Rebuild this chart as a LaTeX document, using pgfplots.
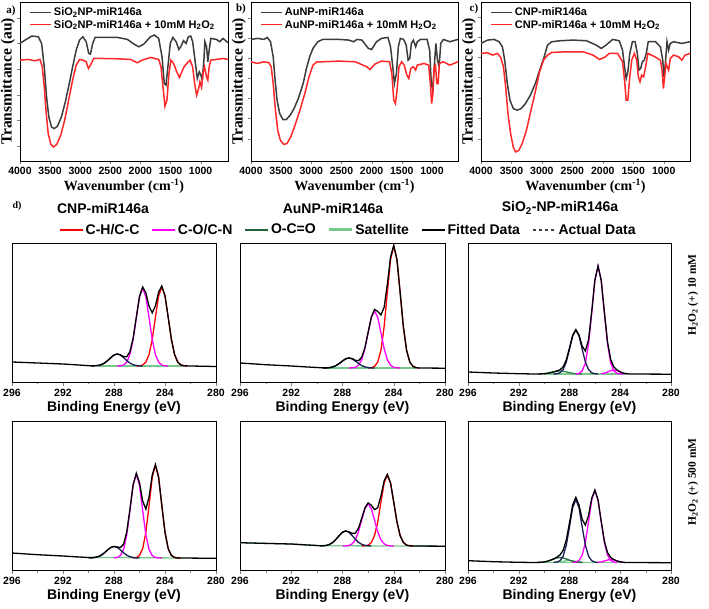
\documentclass[border=0pt]{standalone}
\usepackage{pgfplots}
\pgfplotsset{compat=1.18}
\usepackage{fontspec}
\setmainfont{Liberation Sans}
\newfontfamily\serifb{Liberation Serif}
\definecolor{ftirblack}{RGB}{60,60,60}
\definecolor{ftirred}{RGB}{255,40,40}
\definecolor{cred}{RGB}{255,0,0}
\definecolor{cmag}{RGB}{255,0,255}
\definecolor{cnavy}{RGB}{25,30,85}
\definecolor{cdkgreen}{RGB}{30,100,55}
\definecolor{cltgreen}{RGB}{120,200,140}
\pgfplotsset{
  /pgf/number format/1000 sep={},
  /pgf/number format/assume math mode=true,
  ftir/.style={scale only axis, height=159pt, x dir=reverse, y dir=reverse,
    xmax=4000, ymin=6, ymax=482,
    xtick={1000,1500,2000,2500,3000,3500,4000},
    tick align=outside, xtick pos=lower, ytick pos=lower, yticklabels={},
    ticklabel style={font=\bfseries\fontsize{10.5}{12}\selectfont},
    xlabel={Wavenumber (cm\textsuperscript{-1})}, ylabel={Transmittance (au)},
    xlabel style={font=\serifb\bfseries\fontsize{14}{16}\selectfont, yshift=3pt},
    ylabel style={font=\serifb\bfseries\fontsize{15.5}{17}\selectfont,
      at={(axis description cs:-0.008,0.5)}, anchor=south},
    axis line style={line width=0.8pt}, major tick length=3pt,
    legend style={at={(axis description cs:0.04,0.985)}, anchor=north west, draw=none, fill=none,
      font=\bfseries\fontsize{11}{12}\selectfont, inner sep=1pt, row sep=-1pt},
    legend cell align=left,
    legend image code/.code={\draw[##1,line width=1.4pt] (0pt,0pt) -- (21pt,0pt);},
    every axis plot/.append style={line width=1.5pt}},
  xps/.style={scale only axis, x dir=reverse, xmin=280, xmax=296, ymin=0,
    xtick={280,284,288,292,296}, minor xtick={282,286,290,294}, ytick=\empty,
    tick align=outside, xtick pos=lower,
    ticklabel style={font=\bfseries\fontsize{10.5}{12}\selectfont},
    xlabel={Binding Energy (eV)},
    xlabel style={font=\bfseries\fontsize{14}{16}\selectfont, yshift=2pt},
    axis line style={line width=0.8pt}, major tick length=4pt, minor tick length=2.5pt,
    every axis plot/.append style={line width=1.3pt}},
}
\begin{document}
\begin{tikzpicture}[x=1pt,y=1pt]
\useasboundingbox (0,0) rectangle (709,608);
% ---------------- a ----------------
\begin{axis}[ftir, at={(20pt,447pt)}, anchor=south west, width=208pt, xmin=545,
  ytick={53,130,207,284,361,438}]
\addplot[ftirblack] coordinates {(4000,130) (3915,120) (3805,108) (3696,110) (3641,130) (3597,200) (3559,290) (3521,350) (3477,380) (3433,385) (3378,378) (3312,350) (3247,305) (3181,250) (3120,195) (3066,150) (3011,120) (2956,110) (2901,125) (2858,160) (2830,162) (2792,130) (2753,112) (2655,112) (2381,112) (2216,118) (2107,132) (2025,140) (1943,132) (1833,110) (1767,105) (1696,115) (1641,170) (1603,250) (1575,255) (1543,200) (1504,130) (1460,112) (1406,125) (1362,148) (1329,140) (1285,122) (1241,130) (1203,110) (1164,108) (1132,125) (1093,180) (1055,235) (1022,215) (995,225) (973,240) (945,180) (929,125) (901,140) (880,185) (858,150) (830,115) (737,118) (682,125) (627,115) (545,128)};
\addlegendentry{SiO\textsubscript{2}NP-miR146a}
\addplot[ftirred] coordinates {(4000,180) (3860,178) (3751,182) (3668,178) (3630,200) (3597,260) (3564,340) (3531,400) (3488,432) (3444,440) (3389,432) (3323,405) (3258,360) (3192,300) (3126,240) (3066,195) (3011,178) (2956,180) (2901,185) (2863,205) (2830,195) (2775,175) (2655,175) (2381,176) (2162,178) (2052,188) (1970,180) (1833,172) (1696,178) (1658,200) (1625,260) (1592,318) (1559,300) (1526,220) (1493,180) (1449,190) (1395,215) (1351,232) (1312,215) (1274,200) (1230,190) (1176,180) (1132,200) (1099,250) (1066,285) (1033,265) (1011,245) (984,262) (956,215) (934,200) (901,230) (880,240) (858,200) (830,180) (737,178) (627,175) (545,178)};
\addlegendentry{SiO\textsubscript{2}NP-miR146a + 10mM H\textsubscript{2}O\textsubscript{2}}
\end{axis}
% ---------------- b ----------------
\begin{axis}[ftir, at={(251pt,447pt)}, anchor=south west, width=207pt, xmin=568,
  ytick={55,115,175,235,295,355,415}]
\addplot[ftirblack] coordinates {(4000,118) (3892,115) (3784,118) (3730,112) (3676,125) (3632,170) (3600,240) (3568,300) (3524,340) (3470,358) (3416,358) (3351,345) (3286,325) (3216,295) (3135,250) (3081,205) (3027,170) (2973,145) (2892,125) (2811,118) (2541,118) (2378,120) (2297,125) (2243,118) (2162,120) (2054,145) (2000,148) (1919,125) (1838,115) (1730,112) (1687,140) (1649,200) (1622,250) (1589,220) (1557,140) (1524,115) (1470,118) (1427,135) (1395,180) (1368,175) (1341,130) (1308,120) (1270,140) (1243,125) (1189,118) (1081,118) (1038,150) (1011,250) (989,270) (962,200) (935,130) (908,180) (881,200) (854,130) (811,118) (703,125) (568,118)};
\addlegendentry{AuNP-miR146a}
\addplot[ftirred] coordinates {(4000,185) (3892,190) (3784,185) (3703,188) (3665,200) (3632,250) (3600,320) (3557,390) (3513,420) (3459,432) (3405,430) (3341,410) (3270,375) (3189,330) (3108,280) (3038,230) (2973,195) (2908,185) (2811,185) (2541,183) (2270,185) (2081,200) (2027,208) (1946,192) (1838,183) (1703,185) (1665,220) (1633,300) (1606,310) (1578,270) (1546,200) (1503,185) (1460,195) (1416,225) (1384,235) (1351,205) (1308,200) (1270,210) (1243,195) (1135,190) (1054,195) (1027,250) (1005,310) (984,280) (962,200) (941,195) (919,250) (897,250) (876,190) (811,185) (703,195) (568,185)};
\addlegendentry{AuNP-miR146a + 10mM H\textsubscript{2}O\textsubscript{2}}
\end{axis}
% ---------------- c ----------------
\begin{axis}[ftir, at={(481pt,447pt)}, anchor=south west, width=209pt, xmin=568,
  ytick={52,112,172,232,295,355,415}]
\addplot[ftirblack] coordinates {(4000,130) (3892,120) (3784,118) (3703,125) (3649,140) (3611,180) (3568,250) (3524,300) (3470,325) (3405,330) (3341,325) (3270,310) (3189,285) (3108,250) (3027,205) (2962,170) (2908,135) (2838,125) (2703,122) (2487,120) (2270,122) (2108,135) (2027,145) (1946,135) (1838,118) (1730,122) (1676,150) (1643,200) (1616,235) (1589,215) (1557,160) (1514,125) (1470,125) (1433,160) (1405,210) (1378,205) (1351,185) (1319,180) (1286,160) (1254,125) (1135,125) (1054,140) (1016,180) (995,230) (973,190) (946,125) (919,150) (892,130) (838,125) (703,130) (568,125)};
\addlegendentry{CNP-miR146a}
\addplot[ftirred] coordinates {(4000,160) (3892,158) (3811,165) (3730,160) (3676,172) (3632,200) (3595,260) (3557,340) (3514,400) (3470,440) (3432,455) (3378,450) (3324,430) (3254,390) (3178,330) (3103,270) (3038,215) (2973,180) (2908,165) (2838,157) (2595,155) (2324,155) (2162,165) (2054,178) (1973,172) (1892,160) (1757,160) (1676,185) (1643,240) (1616,300) (1589,300) (1557,230) (1524,180) (1481,160) (1443,180) (1416,230) (1389,245) (1362,225) (1330,230) (1297,200) (1259,160) (1146,170) (1054,180) (1027,210) (1005,265) (984,230) (962,190) (941,200) (919,210) (892,175) (838,165) (757,170) (703,180) (649,165) (568,160)};
\addlegendentry{CNP-miR146a + 10mM H\textsubscript{2}O\textsubscript{2}}
\end{axis}
\node[font=\serifb\bfseries\fontsize{11}{12}\selectfont] at (11,597) {a)};
\node[font=\serifb\bfseries\fontsize{11}{12}\selectfont] at (241,599) {b)};
\node[font=\serifb\bfseries\fontsize{11}{12}\selectfont] at (474,599) {c)};
\node[font=\serifb\bfseries\fontsize{10}{12}\selectfont] at (17,402) {d)};
\node[font=\bfseries\fontsize{14}{16}\selectfont] at (103,400) {CNP-miR146a};
\node[font=\bfseries\fontsize{14}{16}\selectfont] at (333,400) {AuNP-miR146a};
\node[font=\bfseries\fontsize{14}{16}\selectfont] at (560,400) {SiO\textsubscript{2}-NP-miR146a};
\node[rotate=90,font=\serifb\bfseries\fontsize{11.5}{13}\selectfont] at (693,313) {H\textsubscript{2}O\textsubscript{2} (+) 10 mM};
\node[rotate=90,font=\serifb\bfseries\fontsize{11.5}{13}\selectfont] at (693,126) {H\textsubscript{2}O\textsubscript{2} (+) 500 mM};
% ---------------- XPS row 1 col 1 ----------------
\begin{axis}[xps, at={(12pt,226pt)}, anchor=south west, width=204pt, height=139pt, ymax=139,
  legend columns=6, legend cell align=left,
  legend style={at={(axis description cs:0.23,1.095)}, anchor=west, draw=none, fill=none,
    font=\bfseries\fontsize{14}{16}\selectfont, inner sep=0pt,
    /tikz/every even column/.append style={column sep=10pt}},
  legend image code/.code={\draw[#1] (0pt,0pt) -- (23pt,0pt);}]
\addlegendimage{cred, line width=1.6pt}\addlegendentry{C-H/C-C}
\addlegendimage{cmag, line width=1.6pt}\addlegendentry{C-O/C-N}
\addlegendimage{cdkgreen, line width=1.6pt}\addlegendentry{O-C=O}
\addlegendimage{cltgreen, line width=2.6pt}\addlegendentry{Satellite}
\addlegendimage{black, line width=1.6pt}\addlegendentry{Fitted Data}
\addlegendimage{black!75, dashed, line width=1.6pt}\addlegendentry{Actual Data}
\addplot[cltgreen, forget plot] coordinates {(289.25,16) (282.5,16)};
\addplot[cred, forget plot] coordinates {(286.25,16) (286,16.2) (285.75,17) (285.5,19.9) (285.25,27.5) (285,42.8) (284.75,64.8) (284.5,86.1) (284.25,95) (284,86.1) (283.75,64.8) (283.5,42.8) (283.25,27.5) (283,19.9) (282.75,17) (282.5,16.2) (282.25,16)};
\addplot[cmag, forget plot] coordinates {(287.75,16) (287.5,16.2) (287.25,17) (287,19.8) (286.75,27.4) (286.5,42.4) (286.25,64.2) (286,85.2) (285.75,94) (285.5,85.2) (285.25,64.2) (285,42.4) (284.75,27.4) (284.5,19.8) (284.25,17) (284,16.2) (283.75,16)};
\addplot[cnavy, forget plot] coordinates {(289.75,16) (289.5,16.2) (289.25,16.5) (289,17.3) (288.75,18.9) (288.5,21.4) (288.25,24.4) (288,27) (287.75,28) (287.5,27) (287.25,24.4) (287,21.4) (286.75,18.9) (286.5,17.3) (286.25,16.5) (286,16.2) (285.75,16)};
\addplot[black, forget plot] coordinates {(296,20) (294,19) (292,18) (291,17.2) (290,16.3) (289.75,16.1) (289.5,16.2) (289.25,16.5) (289,17.3) (288.75,18.9) (288.5,21.4) (288.25,24.4) (288,27) (287.75,28) (287.5,27.2) (287.25,25.4) (287,25.2) (286.75,30.3) (286.5,43.7) (286.25,64.7) (286,85.6) (285.75,95) (285.5,89.1) (285.25,75.7) (285,69.2) (284.75,76.2) (284.5,89.9) (284.25,96) (284,86.3) (283.75,64.8) (283.5,42.8) (283.25,27.5) (283,19.9) (282.75,17) (282.5,16.2) (282,16) (280,15.5)};
\end{axis}
% ---------------- XPS row 1 col 2 ----------------
\begin{axis}[xps, at={(240pt,226pt)}, anchor=south west, width=205pt, height=139pt, ymax=139]
\addplot[cltgreen] coordinates {(289.5,14) (282.3,14)};
\addplot[cred] coordinates {(286,14) (285.75,14.3) (285.5,15.6) (285.25,20) (285,31.8) (284.75,55.4) (284.5,89.4) (284.25,122.2) (284,136) (283.75,122.2) (283.5,89.4) (283.25,55.4) (283,31.8) (282.75,20) (282.5,15.6) (282.25,14.3) (282,14)};
\addplot[cmag] coordinates {(287.5,14) (287.25,14.2) (287,14.7) (286.75,16.8) (286.5,22.3) (286.25,33.3) (286,49.2) (285.75,64.6) (285.5,71) (285.25,64.6) (285,49.2) (284.75,33.3) (284.5,22.3) (284.25,16.8) (284,14.7) (283.75,14.2) (283.5,14)};
\addplot[cnavy] coordinates {(289.5,14) (289.25,14.1) (289,14.4) (288.75,15.1) (288.5,16.4) (288.25,18.5) (288,21) (287.75,23.2) (287.5,24) (287.25,23.2) (287,21) (286.75,18.5) (286.5,16.4) (286.25,15.1) (286,14.4) (285.75,14.1) (285.5,14)};
\addplot[black] coordinates {(296,19) (294,17.3) (292,16) (291,15.2) (290,14.5) (289.5,14.1) (289.25,14.1) (289,14.4) (288.75,15.1) (288.5,16.4) (288.25,18.5) (288,21) (287.75,23.2) (287.5,24) (287.25,23.4) (287,21.7) (286.75,21.3) (286.5,24.7) (286.25,34.4) (286,49.6) (285.75,64.9) (285.5,72.6) (285.25,70.6) (285,67) (284.75,74.7) (284.5,97.7) (284.25,125) (284,136.7) (283.75,122.4) (283.5,89.4) (283.25,55.4) (283,31.8) (282.75,20) (282.5,15.6) (282.25,14.3) (282,14) (280,13.8)};
\end{axis}
% ---------------- XPS row 1 col 3 ----------------
\begin{axis}[xps, at={(468pt,226pt)}, anchor=south west, width=203pt, height=139pt, ymax=139]
\addplot[cltgreen] coordinates {(290,8) (283.5,8)};
\addplot[cdkgreen!70!cltgreen] coordinates {(290.5,8) (290.25,8.1) (290,8.3) (289.75,8.7) (289.5,9.4) (289.25,10.1) (289,10.7) (288.75,11) (288.5,10.7) (288.25,10.1) (288,9.4) (287.75,8.7) (287.5,8.3) (287.25,8.1) (287,8)};
\addplot[cmag] coordinates {(287.5,8.1) (287.25,8.6) (287,11) (286.75,18.9) (286.5,37.8) (286.25,68.9) (286,101.6) (285.75,116) (285.5,101.6) (285.25,68.9) (285,37.8) (284.75,18.9) (284.5,11) (284.25,8.6) (284,8.1) (283.75,8)};
\addplot[cmag] coordinates {(285.5,8.25) (285.25,8.8) (285,10) (284.75,11.4) (284.5,12) (284.25,11.4) (284,10) (283.75,8.8) (283.5,8.25)};
\addplot[cnavy] coordinates {(289.25,8) (289,8.3) (288.75,9.2) (288.5,12.4) (288.25,20.1) (288,32.8) (287.75,46.1) (287.5,52) (287.25,46.1) (287,32.8) (286.75,20.1) (286.5,12.4) (286.25,9.2) (286,8.3) (285.75,8)};
\addplot[black] coordinates {(296,10) (294,9) (292,8.3) (291,8.05) (290.5,8.05) (290.25,8.1) (290,8.3) (289.75,8.7) (289.5,9.4) (289.25,10.1) (289,11) (288.75,12.2) (288.5,15.1) (288.25,22.2) (288,34.2) (287.75,46.8) (287.5,52.4) (287.25,46.8) (287,35.8) (286.75,31) (286.5,42.2) (286.25,70.1) (286,101.9) (285.75,116) (285.5,101.6) (285.25,69.7) (285,39.8) (284.75,22.3) (284.5,15) (284.25,12) (284,10.1) (283.75,8.8) (283.5,8.3) (283.25,8) (280,7.8)};
\end{axis}
% ---------------- XPS row 2 col 1 ----------------
\begin{axis}[xps, at={(12pt,38pt)}, anchor=south west, width=204pt, height=149pt, ymax=149]
\addplot[cltgreen] coordinates {(290,12.7) (282.75,12)};
\addplot[cred] coordinates {(286.5,12.1) (286.25,12.5) (286,14.6) (285.75,21.4) (285.5,37.7) (285.25,64.5) (285,92.6) (284.75,105) (284.5,92.6) (284.25,64.5) (284,37.7) (283.75,21.4) (283.5,14.6) (283.25,12.5) (283,12.1) (282.75,12)};
\addplot[cmag] coordinates {(288,12.1) (287.75,12.5) (287.5,14.4) (287.25,20.5) (287,35.2) (286.75,59.4) (286.5,84.8) (286.25,96) (286,84.8) (285.75,59.4) (285.5,35.2) (285.25,20.5) (285,14.4) (284.75,12.5) (284.5,12.1) (284.25,12)};
\addplot[cnavy] coordinates {(290,12) (289.75,12.1) (289.5,12.5) (289.25,13.3) (289,14.8) (288.75,17.2) (288.5,20.1) (288.25,22.5) (288,23.5) (287.75,22.5) (287.5,20.1) (287.25,17.2) (287,14.8) (286.75,13.3) (286.5,12.5) (286.25,12.1) (286,12)};
\addplot[black] coordinates {(296,17) (294,15.3) (292,14) (291,13.2) (290,12.5) (289.75,12.3) (289.5,12.6) (289.25,13.3) (289,14.8) (288.75,17.2) (288.5,20.1) (288.25,22.5) (288,23.6) (287.75,23) (287.5,22.5) (287.25,25.7) (287,38) (286.75,60.7) (286.5,85.4) (286.25,96.6) (286,87.4) (285.75,68.8) (285.5,60.9) (285.25,73) (285,95) (284.75,105.5) (284.5,92.7) (284.25,64.5) (284,37.7) (283.75,21.4) (283.5,14.6) (283.25,12.5) (283,12.1) (282.75,12) (280,11.7)};
\end{axis}
% ---------------- XPS row 2 col 2 ----------------
\begin{axis}[xps, at={(240pt,38pt)}, anchor=south west, width=205pt, height=149pt, ymax=149]
\addplot[cltgreen] coordinates {(296,27.3) (292,26) (290,24.5) (288,24.2) (280,23.8)};
\addplot[cred] coordinates {(286.5,24) (286.25,24.2) (286,24.9) (285.75,27.5) (285.5,34.4) (285.25,48.1) (285,67.9) (284.75,87) (284.5,95) (284.25,87) (284,67.9) (283.75,48.1) (283.5,34.4) (283.25,27.5) (283,24.9) (282.75,24.2) (282.5,24)};
\addplot[cmag] coordinates {(288,24) (287.75,24.1) (287.5,24.5) (287.25,26.1) (287,30.1) (286.75,38.2) (286.5,50) (286.25,61.3) (286,66) (285.75,61.3) (285.5,50) (285.25,38.2) (285,30.1) (284.75,26.1) (284.5,24.5) (284.25,24.1) (284,24)};
\addplot[cnavy] coordinates {(289.75,24) (289.5,24.2) (289.25,24.6) (289,25.7) (288.75,27.6) (288.5,30.8) (288.25,34.5) (288,37.7) (287.75,39) (287.5,37.7) (287.25,34.5) (287,30.8) (286.75,27.6) (286.5,25.7) (286.25,24.6) (286,24.2) (285.75,24)};
\addplot[black] coordinates {(296,27.3) (294,26.6) (292,26) (291,25.2) (290,24.5) (289.75,24.2) (289.5,24.2) (289.25,24.6) (289,25.7) (288.75,27.6) (288.5,30.8) (288.25,34.5) (288,37.7) (287.75,39.1) (287.5,38.2) (287.25,36.6) (287,36.9) (286.75,41.8) (286.5,51.7) (286.25,62.1) (286,67.1) (285.75,64.8) (285.5,60.4) (285.25,62.3) (285,74) (284.75,89.1) (284.5,95.5) (284.25,87.1) (284,67.9) (283.75,48.1) (283.5,34.4) (283.25,27.5) (283,24.9) (282.75,24.2) (282.5,24) (280,23.8)};
\end{axis}
% ---------------- XPS row 2 col 3 ----------------
\begin{axis}[xps, at={(468pt,38pt)}, anchor=south west, width=203pt, height=149pt, ymax=149]
\addplot[cltgreen] coordinates {(290,7.5) (283.5,7.5)};
\addplot[cltgreen] coordinates {(289.25,7.6) (289,7.8) (288.75,8.2) (288.5,8.7) (288.25,9.3) (288,9.5) (287.75,9.3) (287.5,8.7) (287.25,8.2) (287,7.8) (286.75,7.6)};
\addplot[cdkgreen] coordinates {(290.5,7.6) (290.25,7.7) (290,8.05) (289.75,8.7) (289.5,9.8) (289.25,11) (289,12.1) (288.75,12.5) (288.5,12.1) (288.25,11) (288,9.8) (287.75,8.7) (287.5,8.05) (287.25,7.7) (287,7.6)};
\addplot[cmag] coordinates {(287.75,7.6) (287.5,7.9) (287.25,9.5) (287,14.8) (286.75,27.4) (286.5,48.1) (286.25,69.9) (286,79.5) (285.75,69.9) (285.5,48.1) (285.25,27.4) (285,14.8) (284.75,9.5) (284.5,7.9) (284.25,7.6)};
\addplot[cmag] coordinates {(285.75,7.7) (285.5,8.1) (285.25,9) (285,10) (284.75,10.5) (284.5,10) (284.25,9) (284,8.1) (283.75,7.7)};
\addplot[cnavy] coordinates {(289.25,7.6) (289,7.9) (288.75,9.3) (288.5,13.9) (288.25,24.9) (288,43) (287.75,62.1) (287.5,70.5) (287.25,62.1) (287,43) (286.75,24.9) (286.5,13.9) (286.25,9.3) (286,7.9) (285.75,7.6)};
\addplot[black] coordinates {(296,9.3) (294,8.3) (292,7.7) (291,7.55) (290.5,7.6) (290.25,7.7) (290,8.05) (289.75,8.7) (289.5,9.8) (289.25,11.1) (289,12.8) (288.75,15) (288.5,19.7) (288.25,30.2) (288,47.3) (287.75,65.2) (287.5,72.7) (287.25,65) (287,50.7) (286.75,44.9) (286.5,54.5) (286.25,71.7) (286,79.9) (285.75,70) (285.5,48.7) (285.25,28.9) (285,17.3) (284.75,12.5) (284.5,10.4) (284.25,9.1) (284,8.1) (283.75,7.7) (283.5,7.5) (280,7.3)};
\end{axis}
\end{tikzpicture}
\end{document}
